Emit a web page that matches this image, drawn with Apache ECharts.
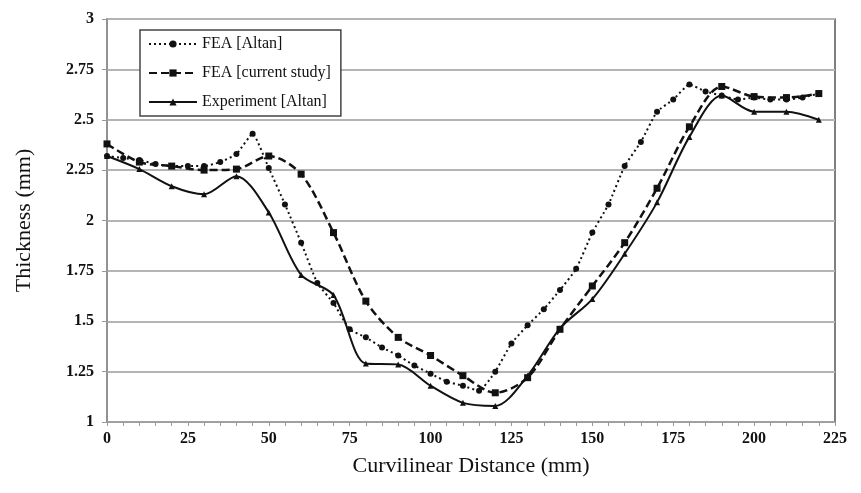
<!DOCTYPE html>
<html>
<head>
<meta charset="utf-8">
<script src="https://cdn.jsdelivr.net/npm/echarts@6/dist/echarts.min.js"></script>
<style>html,body{margin:0;padding:0;background:#fff}#c{width:861px;height:493px}</style>
</head>
<body>
<div id="c"></div>
<script>
// ---- data ----
const seriesNames = ['FEA [Altan]', 'FEA [current study]', 'Experiment [Altan]'];
const xAltan = [0,5,10,15,20,25,30,35,40,45,50,55,60,65,70,75,80,85,90,95,100,105,110,115,120,125,130,135,140,145,150,155,160,165,170,175,180,185,190,195,200,205,210,215,220];
const yAltan = [2.32,2.31,2.30,2.28,2.27,2.27,2.27,2.29,2.33,2.43,2.26,2.08,1.89,1.69,1.59,1.46,1.42,1.37,1.33,1.28,1.24,1.20,1.18,1.155,1.25,1.39,1.48,1.56,1.655,1.76,1.94,2.08,2.27,2.39,2.54,2.60,2.675,2.64,2.62,2.60,2.61,2.60,2.60,2.61,2.63];
const xCurrent = [0,10,20,30,40,50,60,70,80,90,100,110,120,130,140,150,160,170,180,190,200,210,220];
const yCurrent = [2.38,2.29,2.27,2.25,2.255,2.32,2.23,1.94,1.60,1.42,1.33,1.23,1.145,1.22,1.46,1.675,1.89,2.16,2.465,2.665,2.615,2.61,2.63];
const xExp = [0,10,20,30,40,50,60,70,80,90,100,110,120,130,140,150,160,170,180,190,200,210,220];
const yExp = [2.32,2.255,2.17,2.13,2.22,2.04,1.73,1.63,1.29,1.285,1.18,1.095,1.08,1.23,1.465,1.61,1.835,2.09,2.415,2.62,2.54,2.54,2.50];
const xTicks = [0,25,50,75,100,125,150,175,200,225];
const yTicks = [1,1.25,1.5,1.75,2,2.25,2.5,2.75,3];

const pairs = (xs, ys) => xs.map((x, i) => [x, ys[i]]);
const FONT = 'Liberation Serif';
const INK = '#111';

const chart = echarts.init(document.getElementById('c'), null, {renderer: 'canvas'});
chart.setOption({
  animation: false,
  backgroundColor: '#fff',
  grid: {left: 107, right: 26, top: 19, bottom: 71, show: true, borderColor: '#555', borderWidth: 1.5},
  legend: {
    orient: 'vertical', left: 140, top: 30,
    backgroundColor: '#fff', borderColor: '#444', borderWidth: 1.5,
    padding: [6, 10, 6, 8], itemGap: 13, itemWidth: 48, itemHeight: 9,
    textStyle: {fontFamily: FONT, fontSize: 16, color: INK},
    data: seriesNames
  },
  xAxis: {
    type: 'value', min: 0, max: 225, interval: 25,
    name: 'Curvilinear Distance (mm)', nameLocation: 'middle', nameGap: 33,
    nameTextStyle: {fontFamily: FONT, fontSize: 22, color: INK},
    axisLine: {show: true, lineStyle: {color: '#999', width: 1.5}},
    axisTick: {show: true, inside: false, length: 4, lineStyle: {color: '#999'}},
    minorTick: {show: true, splitNumber: 5, length: 4, lineStyle: {color: '#999'}},
    splitLine: {show: false},
    axisLabel: {fontFamily: FONT, fontSize: 16, fontWeight: 'bold', color: INK, margin: 9,
      formatter: v => xTicks.includes(v) ? String(v) : ''}
  },
  yAxis: {
    type: 'value', min: 1, max: 3, interval: 0.25,
    name: 'Thickness (mm)', nameLocation: 'middle', nameGap: 72,
    nameTextStyle: {fontFamily: FONT, fontSize: 22, color: INK},
    axisLine: {show: true, lineStyle: {color: '#999', width: 1.5}},
    axisTick: {show: true, length: 5, lineStyle: {color: '#999'}},
    splitLine: {show: true, lineStyle: {color: '#b4b4b4', width: 2}},
    axisLabel: {fontFamily: FONT, fontSize: 16, fontWeight: 'bold', color: INK, margin: 13,
      formatter: v => yTicks.includes(v) ? String(v) : ''}
  },
  series: [
    {
      name: seriesNames[0], type: 'line', data: pairs(xAltan, yAltan),
      symbol: 'circle', symbolSize: 6, smooth: 0.15,
      lineStyle: {color: INK, width: 2, type: [2, 3]},
      itemStyle: {color: INK}, z: 3
    },
    {
      name: seriesNames[1], type: 'line', data: pairs(xCurrent, yCurrent),
      symbol: 'rect', symbolSize: 7, smooth: 0.3,
      lineStyle: {color: INK, width: 2.5, type: [8, 4]},
      itemStyle: {color: INK}, z: 4
    },
    {
      name: seriesNames[2], type: 'line', data: pairs(xExp, yExp),
      symbol: 'triangle', symbolSize: 6, smooth: 0.3,
      lineStyle: {color: INK, width: 2},
      itemStyle: {color: INK}, z: 5
    }
  ]
});
</script>
</body>
</html>
